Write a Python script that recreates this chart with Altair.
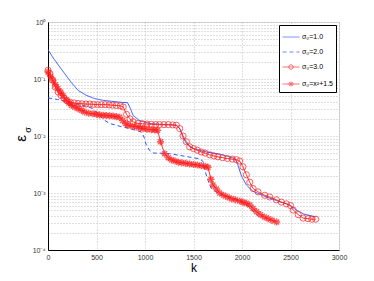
import altair as alt
import pandas as pd

# ---------------- data (stored as log10) ----------------
names = ["σ₀=1.0", "σ₀=2.0", "σ₀=3.0", "σ₀=x²+1.5"]

s1_k = [0, 50, 100, 172, 240, 310, 400, 482, 570, 654, 760, 820, 850, 877, 945, 1049,
        1200, 1323, 1360, 1392, 1427, 1495, 1633, 1770, 1900, 1930, 1960, 1994, 2045,
        2114, 2252, 2350, 2458, 2500, 2560, 2640, 2760]
s1_log = [-0.485, -0.62, -0.74, -0.906, -1.06, -1.20, -1.29, -1.345, -1.375, -1.39, -1.41,
          -1.415, -1.52, -1.64, -1.73, -1.78, -1.80, -1.81, -1.87, -2.03, -2.13, -2.22,
          -2.28, -2.32, -2.38, -2.40, -2.52, -2.70, -2.86, -2.97, -3.07, -3.13, -3.19,
          -3.22, -3.30, -3.37, -3.42]

s2_k = [0, 100, 189, 300, 400, 464, 520, 580, 636, 742, 842, 963, 990, 1014, 1050, 1083,
        1150, 1255, 1461, 1564, 1600, 1616, 1650, 1684, 1770, 1873, 1976, 2080, 2120, 2167]
s2_log = [-1.333, -1.36, -1.39, -1.44, -1.48, -1.52, -1.62, -1.72, -1.78, -1.83, -1.87,
          -1.93, -2.02, -2.16, -2.26, -2.30, -2.30, -2.31, -2.37, -2.40, -2.45, -2.60,
          -2.78, -2.92, -3.02, -3.07, -3.13, -3.25, -3.33, -3.41]

s3_k = [0, 20, 45, 75, 105, 135, 165, 195, 230, 270, 310, 350, 390, 430, 470, 510, 550,
        590, 630, 665, 705, 745, 775, 810, 845, 877, 928, 975, 1020, 1065, 1110, 1150,
        1195, 1240, 1285, 1323, 1358, 1392, 1427, 1461, 1500, 1540, 1580, 1620, 1667,
        1710, 1750, 1800, 1850, 1900, 1942, 1976, 2010, 2045, 2080, 2114, 2165, 2234,
        2286, 2355, 2406, 2458, 2500, 2528, 2580, 2630, 2680, 2720, 2760]
s3_log = [-0.847, -0.905, -1.02, -1.14, -1.23, -1.29, -1.34, -1.38, -1.41, -1.42, -1.43,
          -1.435, -1.44, -1.44, -1.445, -1.45, -1.45, -1.45, -1.455, -1.46, -1.465, -1.47,
          -1.49, -1.62, -1.70, -1.75, -1.78, -1.785, -1.79, -1.795, -1.80, -1.80, -1.80,
          -1.80, -1.805, -1.81, -1.87, -2.00, -2.10, -2.19, -2.22, -2.25, -2.28, -2.30,
          -2.33, -2.35, -2.365, -2.38, -2.395, -2.405, -2.415, -2.44, -2.54, -2.68, -2.81,
          -2.92, -2.98, -3.04, -3.07, -3.12, -3.16, -3.19, -3.22, -3.30, -3.38, -3.44,
          -3.45, -3.46, -3.46]

s4_k = [0, 25, 52, 78, 103, 130, 155, 189, 215, 241, 275, 310, 345, 378, 420, 464, 500,
        533, 570, 602, 636, 671, 705, 739, 770, 800, 825, 870, 911, 950, 980, 1020, 1066,
        1100, 1130, 1160, 1203, 1240, 1275, 1310, 1345, 1380, 1420, 1460, 1500, 1540,
        1580, 1620, 1650, 1680, 1701, 1736, 1770, 1810, 1850, 1890, 1930, 1976, 2010,
        2045, 2080, 2114, 2150, 2190, 2230, 2270, 2310, 2357]
s4_log = [-0.877, -0.95, -1.02, -1.10, -1.17, -1.23, -1.29, -1.37, -1.42, -1.46, -1.49,
          -1.52, -1.55, -1.58, -1.60, -1.61, -1.62, -1.63, -1.635, -1.64, -1.645, -1.65,
          -1.66, -1.67, -1.73, -1.78, -1.81, -1.83, -1.84, -1.86, -1.87, -1.88, -1.89,
          -1.895, -1.90, -2.10, -2.31, -2.38, -2.42, -2.44, -2.46, -2.47, -2.48, -2.49,
          -2.50, -2.51, -2.52, -2.53, -2.55, -2.76, -2.86, -2.93, -3.00, -3.04, -3.07,
          -3.10, -3.12, -3.14, -3.16, -3.18, -3.21, -3.27, -3.33, -3.38, -3.42, -3.45,
          -3.48, -3.51]

x_ticks = [0, 500, 1000, 1500, 2000, 2500, 3000]
y_decades = [0.0001, 0.001, 0.01, 0.1, 1]
y_decade_labels = ["10⁻⁴", "10⁻³", "10⁻²", "10⁻¹", "10⁰"]
minor_mult = [2, 3, 4, 5, 6, 7, 8, 9]

# ---------------- tables ----------------
rows = []
for name, ks, ls in zip(names, [s1_k, s2_k, s3_k, s4_k], [s1_log, s2_log, s3_log, s4_log]):
    for k, l in zip(ks, ls):
        rows.append({"series": name, "k": k, "err": 10 ** l})
df = pd.DataFrame(rows)
df_circ = df[df.series == names[2]]
df_star = df[df.series == names[3]]

y_vals = []
for d in y_decades[:-1]:
    y_vals.append(d)
    y_vals += [m * d for m in minor_mult]
y_vals.append(y_decades[-1])

label_expr = " : ".join(
    f"abs(datum.value - {v}) < {v}*1e-6 ? '{t}'" for v, t in zip(y_decades, y_decade_labels)
) + " : ''"

BLUE = "#2f55ff"
RED = "#ff1a1a"
FONT = "Liberation Sans"

line_path = "M-1,0L1,0"
circle_path = "M-1,0L1,0M0.26,0A0.26,0.26,0,1,1,-0.26,0A0.26,0.26,0,1,1,0.26,0"
star_leg_path = ("M-1,0L1,0M-0.3,0L0.3,0M0,-0.3L0,0.3M-0.21,-0.21L0.21,0.21"
                 "M-0.21,0.21L0.21,-0.21")
star_path = "M-1,0L1,0M0,-1L0,1M-0.7,-0.7L0.7,0.7M-0.7,0.7L0.7,-0.7"

x_enc = alt.X("k:Q", scale=alt.Scale(domain=[0, 3000], nice=False),
              axis=alt.Axis(values=x_ticks, format="d", title="k", grid=True,
                            gridDash=[1, 2], gridColor="#999", gridWidth=0.6,
                            ticks=False, labelPadding=3, labelFontSize=7,
                            labelColor="#333", titleFontSize=12, titleFontWeight="normal",
                            titleColor="#000", titleBaseline="alphabetic", titleY=21,
                            titleFont=FONT, labelFont=FONT,
                            domainColor="#000", labelFlush=False))
y_enc = alt.Y("err:Q", scale=alt.Scale(type="log", domain=[0.0001, 1], nice=False),
              axis=alt.Axis(values=y_vals, labelExpr=label_expr, title="ε", grid=True,
                            gridDash=[1, 2], gridColor="#999", gridWidth=0.6,
                            ticks=False, labelPadding=3, labelFontSize=7,
                            labelColor="#333", titleFontSize=15, titleFontWeight="normal",
                            titleColor="#000",
                            titleAngle=270, titleX=-28, titleY=116, titleAlign="center",
                            titleBaseline="middle", titleFont=FONT, labelFont=FONT,
                            domainColor="#000", labelFlush=False, labelOverlap=False))

color_scale = alt.Scale(domain=names, range=[BLUE, BLUE, RED, RED])
dash_scale = alt.Scale(domain=names, range=[[1, 0], [4, 3], [1, 0], [1, 0]])
shape_scale = alt.Scale(domain=names, range=[line_path, line_path, circle_path, star_leg_path])

legend = alt.Legend(
    title=None, orient="top-right", offset=3, padding=3, fillColor="white",
    strokeColor="#000", cornerRadius=0, labelFontSize=7, labelFont=FONT,
    labelColor="#000", symbolSize=289, symbolStrokeWidth=1, rowPadding=3,
    labelOffset=2,
)

lines = alt.Chart(df).mark_line(strokeWidth=1, clip=True).encode(
    x=x_enc, y=y_enc,
    color=alt.Color("series:N", scale=color_scale, legend=None),
    strokeDash=alt.StrokeDash("series:N", scale=dash_scale, legend=None),
)

# empty layer whose only job is to carry the legend (line + marker samples)
legend_layer = alt.Chart(df).transform_filter("datum.k < 0").mark_point(
    filled=False, strokeWidth=1).encode(
    x="k:Q", y="err:Q",
    color=alt.Color("series:N", scale=color_scale, legend=legend),
    strokeDash=alt.StrokeDash("series:N", scale=dash_scale, legend=legend),
    shape=alt.Shape("series:N", scale=shape_scale, legend=legend),
)

circles = alt.Chart(df_circ).mark_point(shape="circle", filled=False, size=38,
                                         strokeWidth=1, color=RED).encode(
    x="k:Q", y="err:Q")
stars = alt.Chart(df_star).mark_point(shape=star_path, filled=False, size=50,
                                       strokeWidth=1.5, color=RED).encode(
    x="k:Q", y="err:Q")

sub = alt.Chart(pd.DataFrame({"t": ["σ"]})).mark_text(
    angle=270, fontSize=9, font=FONT, align="center", baseline="middle", color="#000"
).encode(text="t:N", x=alt.value(-20.5), y=alt.value(108))

chart = alt.layer(lines, legend_layer, circles, stars, sub).resolve_scale(
    color="independent", strokeDash="independent", shape="independent"
).properties(
    width=291, height=228,
    autosize=alt.AutoSizeParams(type="none"),
    padding={"left": 40, "top": 14, "right": 27, "bottom": 23},
).configure_view(stroke="#000", strokeWidth=1).configure(background="white")

chart.save("out.html", embed_options={"renderer": "svg", "actions": False})
